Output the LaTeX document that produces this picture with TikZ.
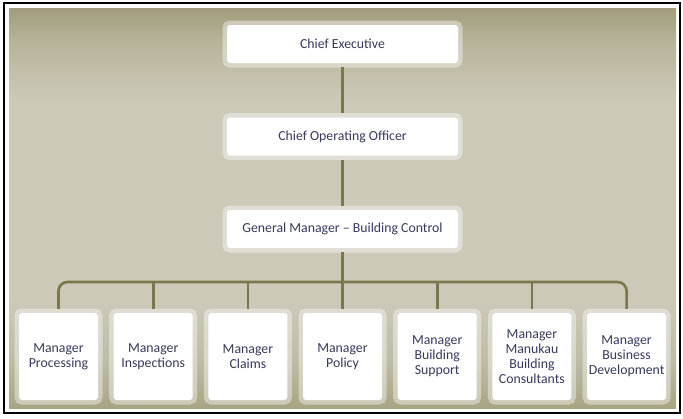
\documentclass[tikz,border=0pt]{standalone}
\usepackage{fontspec}
\setmainfont{Carlito}
\definecolor{txt}{RGB}{55,58,92}
\definecolor{linec}{RGB}{122,119,78}
\definecolor{bgA}{RGB}{168,165,132}
\definecolor{bgB}{RGB}{190,188,165}
\definecolor{bgC}{RGB}{204,201,185}
\definecolor{bgD}{RGB}{183,179,152}
\definecolor{bgE}{RGB}{160,156,124}
\pgfdeclareverticalshading{bgshade}{100bp}{color(0bp)=(bgA); color(25bp)=(bgA); color(31bp)=(bgB); color(38.5bp)=(bgC); color(63.5bp)=(bgC); color(71bp)=(bgD); color(75bp)=(bgE); color(100bp)=(bgE)}
\tikzset{
  boxbase/.style={fill=white, rounded corners=3pt, text=txt, align=center,
    inner sep=1pt, font=\fontsize{13.8}{15}\selectfont,
    preaction={draw=white, draw opacity=0.4, line width=9pt, rounded corners=3pt}},
  topbox/.style={boxbase, minimum width=231pt, minimum height=38pt},
  mgrbox/.style={boxbase, minimum width=78pt, minimum height=87pt, text width=77pt},
  conn/.style={draw=linec, line width=2.6pt, shorten <=4pt, shorten >=4pt}
}
\begin{document}
\begin{tikzpicture}[x=1pt,y=-1pt]
\useasboundingbox (0,0) rectangle (683,418);
\fill[white] (0,0) rectangle (683,418);
\shade[shading=bgshade] (9,8) rectangle (676,408);
\draw[black, line width=1.5pt] (4,3) rectangle (680,413);

\node[topbox] (ce) at (342.5,44) {Chief Executive};
\node[topbox] (coo) at (342.5,136.5) {Chief Operating Officer};
\node[topbox] (gm) at (342.5,229) {General Manager -- Building Control};

\node[mgrbox] (m1) at (58.5,356.5) {Manager\\Processing};
\node[mgrbox] (m2) at (153.2,356.5) {Manager\\Inspections};
\node[mgrbox] (m3) at (247.9,356.5) {Manager\\Claims};
\node[mgrbox] (m4) at (342.5,356.5) {Manager\\Policy};
\node[mgrbox] (m5) at (437.2,356.5) {Manager\\Building\\Support};
\node[mgrbox] (m6) at (531.9,356.5) {Manager\\Manukau\\Building\\Consultants};
\node[mgrbox] (m7) at (626.6,356.5) {Manager\\Business\\Development};
\coordinate (bus) at (342.5,282);

\draw[conn] (ce) -- (coo);
\draw[conn] (coo) -- (gm);
\draw[conn] (gm) -- (m4);
\draw[conn, rounded corners=9pt] (m1.north) -- (m1.north |- bus) -- (m7.north |- bus) -- (m7.north);
\draw[conn, shorten <=0pt] (bus -| m2.north) -- (m2.north);
\draw[conn, shorten <=0pt] (bus -| m3.north) -- (m3.north);
\draw[conn, shorten <=0pt] (bus -| m5.north) -- (m5.north);
\draw[conn, shorten <=0pt] (bus -| m6.north) -- (m6.north);
\end{tikzpicture}
\end{document}
